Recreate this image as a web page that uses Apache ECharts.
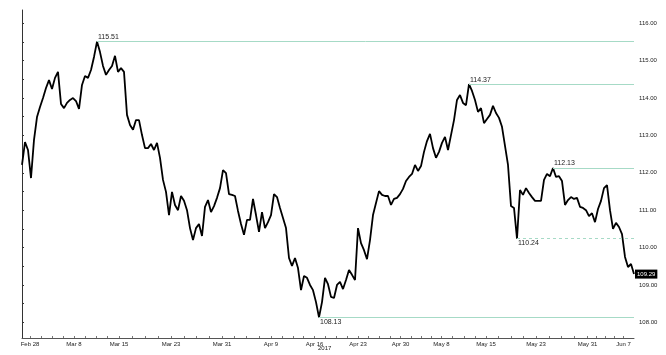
<!DOCTYPE html>
<html>
<head>
<meta charset="utf-8">
<script src="https://cdn.jsdelivr.net/npm/echarts@6/dist/echarts.min.js"></script>
<style>html,body{margin:0;background:#fff}#c{width:666px;height:355px}</style>
</head>
<body>
<div id="c"></div>
<script>
// USD/JPY-style price path, Feb 28 - Jun 7 2017, one value per sampling step
const prices = [
  112.21, 112.82, 112.61, 111.86, 112.88, 113.49, 113.76, 114.00, 114.27, 114.48,
  114.24, 114.54, 114.70, 113.84, 113.73, 113.87, 113.95, 114.00, 113.92, 113.71,
  114.35, 114.59, 114.54, 114.75, 115.10, 115.51, 115.23, 114.86, 114.62, 114.75,
  114.86, 115.13, 114.70, 114.80, 114.70, 113.55, 113.28, 113.15, 113.41, 113.41,
  113.01, 112.66, 112.66, 112.77, 112.61, 112.80, 112.40, 111.81, 111.49, 110.87,
  111.49, 111.14, 111.00, 111.38, 111.25, 111.00, 110.52, 110.20, 110.52, 110.63,
  110.31, 111.09, 111.27, 110.95, 111.11, 111.33, 111.59, 112.07, 111.99, 111.43,
  111.41, 111.38, 110.98, 110.63, 110.34, 110.74, 110.74, 111.30, 110.87, 110.42,
  110.95, 110.52, 110.68, 110.87, 111.43, 111.35, 111.06, 110.79, 110.52, 109.72,
  109.51, 109.72, 109.45, 108.86, 109.24, 109.19, 109.00, 108.86, 108.54, 108.13,
  108.54, 109.19, 109.02, 108.68, 108.65, 109.00, 109.08, 108.89, 109.13, 109.40,
  109.27, 109.13, 110.52, 110.12, 109.93, 109.69, 110.20, 110.87, 111.19, 111.51,
  111.41, 111.38, 111.38, 111.14, 111.30, 111.33, 111.43, 111.57, 111.78, 111.89,
  111.97, 112.21, 112.05, 112.18, 112.56, 112.85, 113.04, 112.66, 112.40, 112.56,
  112.80, 112.96, 112.61, 113.01, 113.41, 113.95, 114.08, 113.87, 113.81, 114.37,
  114.19, 113.95, 113.63, 113.73, 113.33, 113.44, 113.55, 113.79, 113.60, 113.47,
  113.23, 112.72, 112.21, 111.11, 111.06, 110.24, 111.54, 111.41, 111.59, 111.46,
  111.35, 111.25, 111.25, 111.25, 111.81, 111.97, 111.91, 112.13, 111.89, 111.91,
  111.78, 111.14, 111.27, 111.35, 111.30, 111.33, 111.09, 111.06, 111.00, 110.84,
  110.92, 110.68, 111.03, 111.25, 111.59, 111.67, 111.00, 110.50, 110.66, 110.55,
  110.36, 109.75, 109.48, 109.56, 109.29
]

// date labels and the sample step each one sits at
const xLabels = ['Feb 28', 'Mar 8', 'Mar 15', 'Mar 23', 'Mar 31', 'Apr 9', 'Apr 16',
  'Apr 23', 'Apr 30', 'May 8', 'May 15', 'May 23', 'May 31', 'Jun 7']
const xLabelAt = [2.67, 17.33, 32.33, 49.67, 66.67, 83, 97.5, 112, 126.17, 139.83,
  154.67, 171.33, 188.5, 200.5]
const yearLabel = '2017'

const yTicks = [108, 109, 110, 111, 112, 113, 114, 115, 116]

// marked highs / lows, drawn from where they occur to the right edge
const levels = [115.51, 114.37, 112.13, 110.24, 108.13]
const dashedLevels = [110.24]
const labelBelow = [110.24, 108.13]

const last = prices[prices.length - 1]
const n = prices.length

const font = 'Liberation Sans'
const levelColor = '#a6dac6'

// small ticks: each label plus three between neighbours
const xTicks = []
xLabelAt.forEach((v, k) => {
  xTicks.push(v)
  const next = xLabelAt[k + 1]
  if (next !== undefined) for (let j = 1; j < 4; j++) xTicks.push(v + (next - v) * j / 4)
})
const yMinor = []
for (let v = 108; v <= 116; v += 0.5) yMinor.push(v)

const levelLines = levels.map(v => {
  const i = prices.indexOf(v)
  const below = labelBelow.includes(v)
  return [
    {
      coord: [i, v],
      lineStyle: { color: levelColor, width: 1, type: dashedLevels.includes(v) ? [3, 3] : 'solid' },
      label: {
        show: true, formatter: v.toFixed(2),
        position: below ? 'insideStartBottom' : 'insideStartTop',
        distance: 1, color: '#222', fontSize: 7, fontFamily: font,
      },
    },
    { coord: [n - 1, v] },
  ]
})

const chart = echarts.init(document.getElementById('c'), null, { renderer: 'canvas' })
chart.setOption({
  animation: false,
  backgroundColor: '#fff',
  grid: { left: 22, right: 32, top: 10, bottom: 17, outerBoundsMode: 'none' },
  xAxis: {
    type: 'value', min: 0, max: n - 1,
    axisLine: { lineStyle: { color: '#555', width: 1 } },
    axisTick: { show: true, inside: true, length: 2, customValues: xTicks, lineStyle: { color: '#777' } },
    axisLabel: {
      customValues: xLabelAt, margin: 3, color: '#222', fontSize: 6, fontFamily: font,
      formatter: v => xLabels[xLabelAt.indexOf(v)] || '',
    },
    splitLine: { show: false },
  },
  yAxis: {
    type: 'value', position: 'right', min: 107.58, max: 116.356,
    axisLine: { show: true, lineStyle: { color: '#333', width: 1 } },
    axisTick: { show: true, length: 2, customValues: yMinor, lineStyle: { color: '#333' } },
    axisLabel: {
      customValues: yTicks, margin: 5, color: '#222', fontSize: 6, fontFamily: font,
      formatter: v => v.toFixed(2),
    },
    splitLine: { show: false },
  },
  graphic: [{
    type: 'text', left: 318, top: 345,
    style: { text: yearLabel, fill: '#222', font: `6px "${font}"` },
  }],
  series: [{
    type: 'line',
    data: prices.map((v, i) => [i, v]),
    showSymbol: false,
    lineStyle: { color: '#000', width: 1.8 },
    emphasis: { disabled: true },
    markLine: {
      silent: true, symbol: 'none',
      data: [
        ...levelLines,
        {
          yAxis: last,
          lineStyle: { color: 'rgba(0,0,0,0)', width: 0 },
          label: {
            show: true, position: 'end', distance: 1, formatter: last.toFixed(2),
            color: '#fff', backgroundColor: '#000', padding: [2, 2, 1, 2],
            fontSize: 6, fontFamily: font,
          },
        },
      ],
    },
  }],
})
</script>
</body>
</html>
